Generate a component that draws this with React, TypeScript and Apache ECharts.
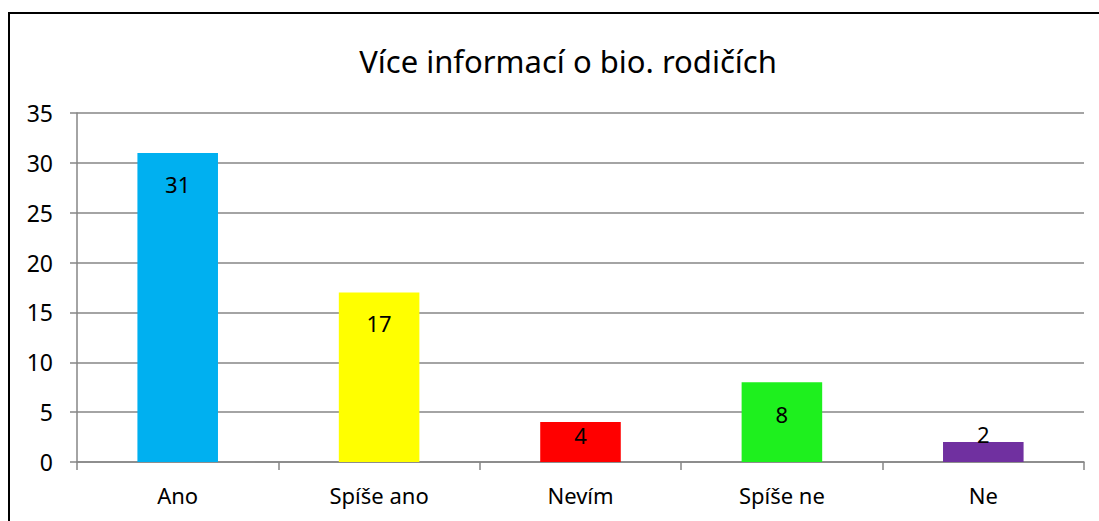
import React, { useEffect, useRef } from "react";
import * as echarts from "echarts";

const titleText = "Více informací o bio. rodičích";
const categories = ["Ano", "Spíše ano", "Nevím", "Spíše ne", "Ne"];
const values = [31, 17, 4, 8, 2];
const barColors = ["#00B0F0", "#FFFF00", "#FF0000", "#1EF01E", "#7030A0"];
const labelOffsets = [31, 31, 13, 32, -8];

const FONT = "Noto Sans";

export default function App() {
  const ref = useRef<HTMLDivElement>(null);
  useEffect(() => {
    if (!ref.current) return;
    const chart = echarts.init(ref.current, null, { renderer: "svg" });
    chart.setOption({
      animation: false,
      backgroundColor: "#ffffff",
      textStyle: { fontFamily: FONT },
      title: {
        text: titleText,
        left: 563,
        top: 40,
        textAlign: "center",
        textStyle: { fontFamily: FONT, fontSize: 31, fontWeight: "normal", color: "#000" },
      },
      graphic: [
        {
          type: "rect",
          shape: { x: 9, y: 13, width: 1200, height: 600 },
          style: { fill: "none", stroke: "#000", lineWidth: 2 },
          silent: true,
        },
      ],
      grid: { left: 77, right: 15, top: 113, bottom: 59, containLabel: false },
      xAxis: {
        type: "category",
        data: categories,
        axisLine: { show: true, lineStyle: { color: "#868686", width: 1.5 } },
        axisTick: { show: true, alignWithLabel: false, length: 8, lineStyle: { color: "#868686", width: 1.5 } },
        axisLabel: { color: "#000", fontSize: 22, fontFamily: FONT, margin: 22 },
      },
      yAxis: {
        type: "value",
        min: 0,
        max: 35,
        interval: 5,
        axisLine: { show: true, lineStyle: { color: "#868686", width: 1.5 } },
        axisTick: { show: true, length: 7, lineStyle: { color: "#868686", width: 1.5 } },
        splitLine: { show: true, lineStyle: { color: "#868686", width: 1.5 } },
        axisLabel: { color: "#000", fontSize: 23, fontFamily: FONT, margin: 24 },
      },
      series: [
        {
          type: "bar",
          barWidth: "40%",
          data: values.map((v, i) => ({
            value: v,
            itemStyle: { color: barColors[i] },
            label: {
              show: true,
              position: ["50%", labelOffsets[i]],
              align: "center",
              verticalAlign: "middle",
              color: "#000",
              fontSize: 22,
              fontFamily: FONT,
            },
          })),
        },
      ],
    });
    return () => chart.dispose();
  }, []);
  return (
    <div
      ref={ref}
      style={{ position: "absolute", left: 0, top: 0, width: 1099, height: 521 }}
    />
  );
}
